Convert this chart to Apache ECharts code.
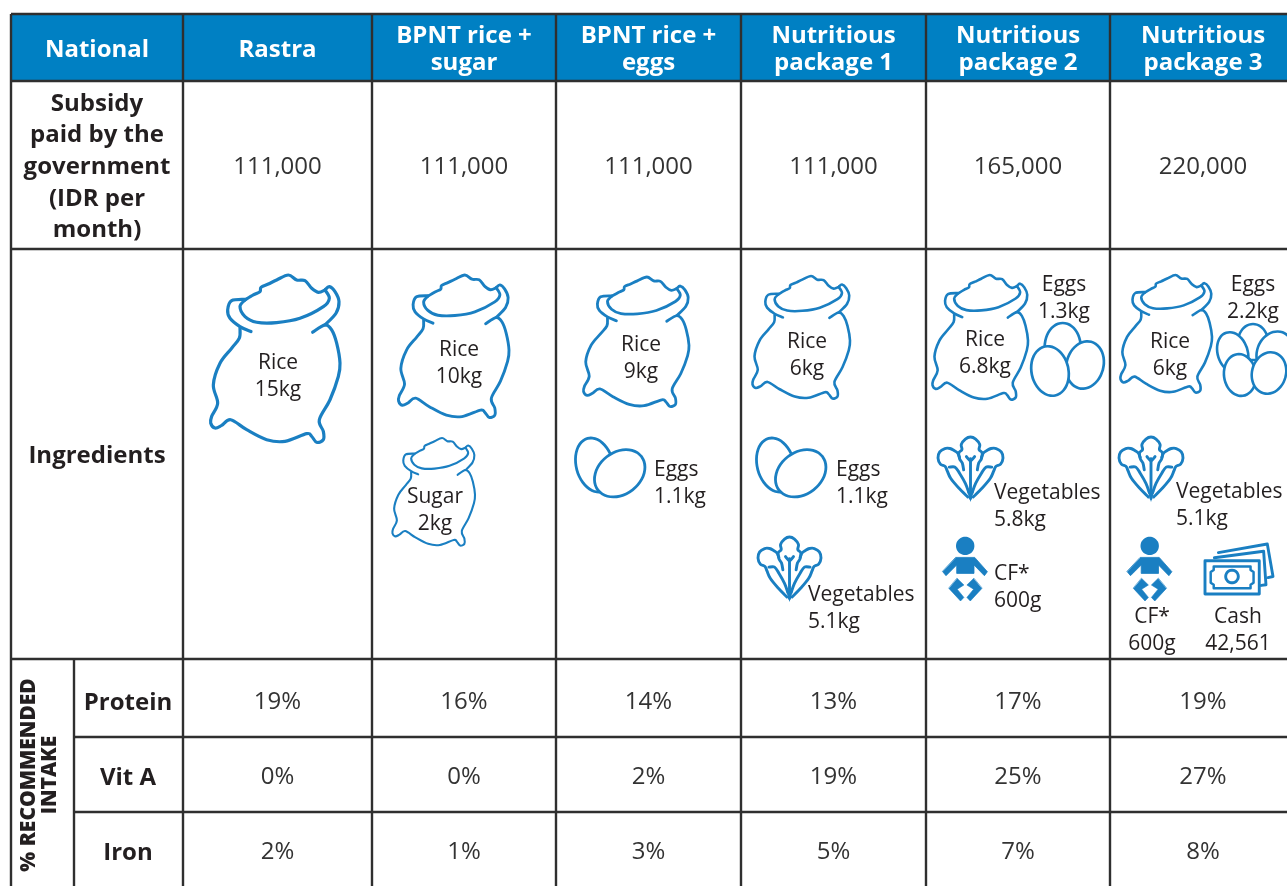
<!DOCTYPE html>
<html>
<head>
<meta charset="utf-8">
<style>html,body{margin:0;padding:0;background:#fff;overflow:hidden}#c{width:1287px;height:886px}</style>
<script src="https://cdn.jsdelivr.net/npm/echarts@6/dist/echarts.min.js"></script>
</head>
<body>
<div id="c"></div>
<script>
// ---------- data ----------
const cornerLabel = 'National';
const packages = ['Rastra', 'BPNT rice +\nsugar', 'BPNT rice +\neggs', 'Nutritious\npackage 1', 'Nutritious\npackage 2', 'Nutritious\npackage 3'];
const subsidyLabel = 'Subsidy\npaid by the\ngovernment\n(IDR per\nmonth)';
const ingredientsLabel = 'Ingredients';
const intakeLabel = '% RECOMMENDED\nINTAKE';
const subsidy = ['111,000', '111,000', '111,000', '111,000', '165,000', '220,000'];
const nutrients = ['Protein', 'Vit A', 'Iron'];
const protein = ['19%', '16%', '14%', '13%', '17%', '19%'];
const vitA = ['0%', '0%', '2%', '19%', '25%', '27%'];
const iron = ['2%', '1%', '3%', '5%', '7%', '8%'];
const rastraItems = ['Rice\n15kg'];
const riceSugarItems = ['Rice\n10kg', 'Sugar\n2kg'];
const riceEggsItems = ['Rice\n9kg', 'Eggs\n1.1kg'];
const package1Items = ['Rice\n6kg', 'Eggs\n1.1kg', 'Vegetables\n5.1kg'];
const package2Items = ['Rice\n6.8kg', 'Eggs\n1.3kg', 'Vegetables\n5.8kg', 'CF*\n600g'];
const package3Items = ['Rice\n6kg', 'Eggs\n2.2kg', 'Vegetables\n5.1kg', 'CF*\n600g', 'Cash\n42,561'];

// ---------- layout and style ----------
const FONT = '"Open Sans", "Noto Sans", sans-serif';
const INK = '#231f20', RULE = '#2f2f2f', HEAD = '#0080c3', ICON = '#1a7fc2';
const colEdges = [11, 183, 372, 556, 741, 926, 1110, 1296];
const rowEdges = [14, 81, 249, 659, 737, 812, 892];
const colMid = i => (colEdges[i] + colEdges[i + 1]) / 2;
const headerY = 49.7;
const valueY = { 1: 167.3, 3: 702.3, 4: 777.3, 5: 852.3 };
const labelPlace = [
  [[278, 376.5, 'center']],
  [[459, 363.5, 'center'], [435, 510.5, 'center']],
  [[641, 358.5, 'center'], [654, 484, 'left']],
  [[807, 356, 'center'], [836, 484, 'left'], [808, 609, 'left']],
  [[985, 354, 'center'], [1064, 299, 'center'], [994, 507, 'left'], [994, 588, 'left']],
  [[1170, 355.5, 'center'], [1253, 299, 'center'], [1176, 506, 'left'], [1152, 630.5, 'center'], [1238, 630.5, 'center']]
];
const itemLists = [rastraItems, riceSugarItems, riceEggsItems, package1Items, package2Items, package3Items];

// ---------- pictogram drawing ----------
const smooth = pts => {
  let d = 'M' + pts[0][0] + ' ' + pts[0][1];
  for (let i = 0; i < pts.length - 1; i++) {
    const p0 = pts[i - 1] || pts[i], p1 = pts[i], p2 = pts[i + 1], p3 = pts[i + 2] || p2;
    d += 'C' + (p1[0] + (p2[0] - p0[0]) / 6) + ' ' + (p1[1] + (p2[1] - p0[1]) / 6) + ' ' +
      (p2[0] - (p3[0] - p1[0]) / 6) + ' ' + (p2[1] - (p3[1] - p1[1]) / 6) + ' ' + p2[0] + ' ' + p2[1];
  }
  return d;
};
const straight = pts => 'M' + pts.map(p => p[0] + ' ' + p[1]).join('L');
const ellipsePath = (cx, cy, rx, ry, deg) => {
  const a = deg * Math.PI / 180, n = 24, pts = [];
  for (let i = 0; i <= n; i++) {
    const t = i / n * 2 * Math.PI, x = rx * Math.cos(t), y = ry * Math.sin(t);
    pts.push([cx + x * Math.cos(a) - y * Math.sin(a), cy + x * Math.sin(a) + y * Math.cos(a)]);
  }
  return smooth(pts) + 'Z';
};
const sackStrokes = [
  [[150,205],[148,235],[125,265],[90,310],[70,375],[83,430],[65,470],[62,490],[75,505],[95,497],[122,480],[170,510],[230,540],[285,545],[350,522],[365,530],[380,548],[400,540],[400,515],[388,480],[420,420],[445,350],[450,310],[440,250],[425,210],[405,195],[368,217]],
  [[183,215],[150,200],[120,175],[113,150],[125,122],[165,118]],
  [[165,120],[150,140],[165,170],[200,187],[260,188],[330,175],[400,140],[418,115],[405,90]],
  [[165,120],[190,105],[210,95],[213,82],[235,72],[260,60],[295,45],[320,60],[345,62],[365,85],[385,97],[405,90]],
  [[405,90],[418,80],[435,95],[447,125],[438,160],[405,195]]
];
const sackBox = [60, 45, 450, 550];
const fit = (pts, src, box) => pts.map(p => [
  box[0] + (p[0] - src[0]) / (src[2] - src[0]) * (box[2] - box[0]),
  box[1] + (p[1] - src[1]) / (src[3] - src[1]) * (box[3] - box[1])
]);
const leftLeaf = [[112,185],[85,158],[62,130],[52,108],[46,95],[32,88],[25,70],[30,52],[45,42],[60,42],[72,48],[82,55],[88,68]];
const leftVein = [[58,97],[75,97],[88,115],[105,145],[115,172]];
const mirror = pts => pts.map(p => [240 - p[0], p[1]]);
const leafStrokes = [
  leftLeaf, leftVein, mirror(leftLeaf), mirror(leftVein),
  [[100,105],[96,85],[88,72],[86,55],[95,45],[93,30],[105,14],[120,8],[135,14],[147,30],[145,45],[154,55],[152,72],[144,85],[140,105]],
  [[108,66],[120,78],[132,66]]
];
const leafStems = [[[120,72],[120,190]]];
const leafTip = [[110,168],[130,168],[120,200]];
const leafBox = [25, 8, 215, 200];
const babyTorso = [[13.8,20.7],[32.5,20.7],[45.2,35],[42.2,39],[31.8,28.3],[31.8,36.7],[14.5,36.7],[14.5,28.3],[3.8,39],[0.5,35]];
const babyLeg = [[15,41.7],[21.7,48.3],[15,52.5],[21.7,60.7],[18.3,64.3],[6.7,51.7]];
const billFront = [[30,80],[192,80],[192,177],[30,177]];
const billInner = [[56,97],[166,97],[166,107],[175,113],[175,144],[166,150],[166,160],[56,160],[56,150],[47,144],[47,113],[56,107]];
const billBack1 = [[58,71],[205,52],[212,150],[198,152]];
const billBack2 = [[70,56],[216,31],[233,126],[218,129]];
const billBox = [30, 31, 233, 177];

function sackEls(box, lw) {
  return sackStrokes.map(s => ({ d: smooth(fit(s, sackBox, box)), lw }));
}
function vegEls(box, lw) {
  const out = leafStrokes.map(s => ({ d: smooth(fit(s, leafBox, box)), lw }));
  leafStems.forEach(s => out.push({ d: straight(fit(s, leafBox, box)), lw }));
  out.push({ d: straight(fit(leafTip, leafBox, box)) + 'Z', lw: 0, fill: ICON });
  return out;
}
function eggEls(list, lw) {
  return list.map(e => ({ d: ellipsePath(e[0], e[1], e[2], e[3], e[4]), lw, fill: '#fff' }));
}
function babyEls(x, y) {
  const p = a => [x + a[0], y + a[1]];
  return [
    { d: ellipsePath(x + 23, y + 9.2, 9.2, 9.2, 0), lw: 0, fill: ICON },
    { d: straight(babyTorso.map(p)) + 'Z', lw: 0.8, fill: ICON },
    { d: straight(babyLeg.map(p)) + 'Z', lw: 0.6, fill: ICON },
    { d: straight(babyLeg.map(a => p([46.4 - a[0], a[1]]))) + 'Z', lw: 0.6, fill: ICON }
  ];
}
function cashEls(box, lw) {
  const f = s => straight(fit(s, billBox, box));
  return [
    { d: f(billBack2), lw }, { d: f(billBack1), lw },
    { d: f(billFront) + 'Z', lw, fill: '#fff' },
    { d: f(billInner) + 'Z', lw: lw * 0.85 },
    { d: ellipsePath(box[0] + 27, box[1] + 32.5, 6.3, 6.3, 0), lw }
  ];
}
const eggsPair = dx => [[775.7 + dx, 465, 18.5, 27.5, -15], [800.7 + dx, 473.3, 27.5, 21, -38]];
const pictograms = [].concat(
  sackEls([210, 275, 340, 443], 3.2),
  sackEls([398, 275, 509, 418], 2.9),
  sackEls([392, 438, 475, 546], 2.1),
  sackEls([583, 277, 689, 407], 2.8),
  sackEls([752, 276, 850, 399], 2.6),
  sackEls([932, 275, 1028, 400], 2.6),
  sackEls([1120, 275, 1212, 393], 2.6),
  eggEls(eggsPair(-181), 2.8),
  eggEls(eggsPair(0), 2.8),
  eggEls([[1062.7, 347, 18, 24, 0], [1085, 365, 18.5, 24, 15], [1050, 371, 18.5, 25, -12]], 2.7),
  eggEls([[1253, 342, 15, 18, 0], [1232.7, 352.7, 15, 21, -18], [1275, 353, 18, 22, 20], [1240, 375, 16, 21, -8], [1269, 373, 17, 21, 15]], 2.6),
  vegEls([938, 437, 1003, 502], 2.9),
  vegEls([758, 537, 821, 602], 2.9),
  vegEls([1119, 437, 1183, 502], 2.9),
  babyEls(942.2, 536.7),
  babyEls(1126.7, 536.7),
  cashEls([1205, 544, 1273, 594], 2.9)
);

// ---------- series data ----------
const headerRows = [[0, cornerLabel]].concat(packages.map((t, i) => [i + 1, t]));
const valueRows = [[1, subsidy], [3, protein], [4, vitA], [5, iron]];
const valueCells = [];
valueRows.forEach(r => r[1].forEach((t, i) => valueCells.push([i + 1, r[0], t])));
const itemCells = [];
itemLists.forEach((list, c) => list.forEach((t, i) => itemCells.push([labelPlace[c][i][0], labelPlace[c][i][1], t, labelPlace[c][i][2]])));

const rules = [];
colEdges.slice(0, 7).forEach(x => rules.push([x, rowEdges[0], x, 892]));
rowEdges.slice(0, 4).forEach(y => rules.push([colEdges[0], y, 1296, y]));
rowEdges.slice(4, 6).forEach(y => rules.push([74, y, 1296, y]));
rules.push([74, rowEdges[3], 74, 892]);

const txt = (x, y, text, o) => ({
  type: 'text', x, y, silent: true,
  rotation: o.rotation || 0,
  style: { text, align: o.align || 'center', verticalAlign: 'middle', fontFamily: FONT, fontSize: o.size, fontWeight: o.weight || 'normal', fill: o.fill || INK, lineHeight: o.lh }
});
const P = (api, x, y) => api.coord([x, y]);
const custom = (data, renderItem, z) => ({ type: 'custom', coordinateSystem: 'cartesian2d', data, renderItem, silent: true, clip: false, z, encode: { x: 0, y: 1 } });

const option = {
  animation: false,
  backgroundColor: '#fff',
  grid: { left: 0, right: 0, top: 0, bottom: 0 },
  xAxis: { type: 'value', min: 0, max: 1287, show: false },
  yAxis: { type: 'value', min: 0, max: 886, inverse: true, show: false },
  series: [
    custom(headerRows.map(r => [r[0], 0]), (p, api) => {
      const i = api.value(0), a = P(api, colEdges[i], rowEdges[0]), b = P(api, colEdges[i + 1], rowEdges[1]);
      const m = P(api, colMid(i), headerY);
      return { type: 'group', children: [
        { type: 'rect', shape: { x: a[0], y: a[1], width: b[0] - a[0], height: b[1] - a[1] }, style: { fill: HEAD } },
        txt(m[0], m[1], headerRows[p.dataIndex][1], { size: 24, weight: 700, fill: '#fff', lh: 27 })
      ] };
    }, 1),
    custom(rules.map((r, i) => [i, 0]), (p, api) => {
      const r = rules[p.dataIndex], a = P(api, r[0], r[1]), b = P(api, r[2], r[3]);
      return { type: 'line', shape: { x1: a[0], y1: a[1], x2: b[0], y2: b[1] }, style: { stroke: RULE, lineWidth: 2.4 } };
    }, 2),
    custom(valueCells.map((c, i) => [i, 0]), (p, api) => {
      const c = valueCells[p.dataIndex], m = P(api, colMid(c[0]), valueY[c[1]]);
      return txt(m[0], m[1], c[2], { size: 24, fill: '#333', lh: 27 });
    }, 3),
    custom([[97, 167.2], [97, 456]], (p, api) => {
      const m = P(api, api.value(0), api.value(1));
      return txt(m[0], m[1], p.dataIndex ? ingredientsLabel : subsidyLabel, { size: 24, weight: 700, lh: p.dataIndex ? 27 : 31.7 });
    }, 3),
    custom([[128, 703], [128, 778], [128, 853]], (p, api) => {
      const m = P(api, api.value(0), api.value(1));
      return txt(m[0], m[1], nutrients[p.dataIndex], { size: 24, weight: 700, lh: 27 });
    }, 3),
    custom([[39.5, 775]], (p, api) => {
      const m = P(api, api.value(0), api.value(1));
      return txt(m[0], m[1], intakeLabel, { size: 21, weight: 800, lh: 21, rotation: Math.PI / 2 });
    }, 3),
    custom(pictograms.map((e, i) => [i, 0]), (p, api) => {
      const e = pictograms[p.dataIndex];
      return { type: 'path', shape: { pathData: e.d }, style: { fill: e.fill || 'none', stroke: e.lw ? ICON : 'none', lineWidth: e.lw, lineCap: 'round', lineJoin: 'round' } };
    }, 4),
    custom(itemCells.map((c, i) => [i, 0]), (p, api) => {
      const c = itemCells[p.dataIndex], m = P(api, c[0], c[1]);
      return txt(m[0], m[1], c[2], { size: 21, align: c[3], lh: 27 });
    }, 5)
  ]
};
echarts.init(document.getElementById('c'), null, { renderer: 'canvas' }).setOption(option);
</script>
</body>
</html>
